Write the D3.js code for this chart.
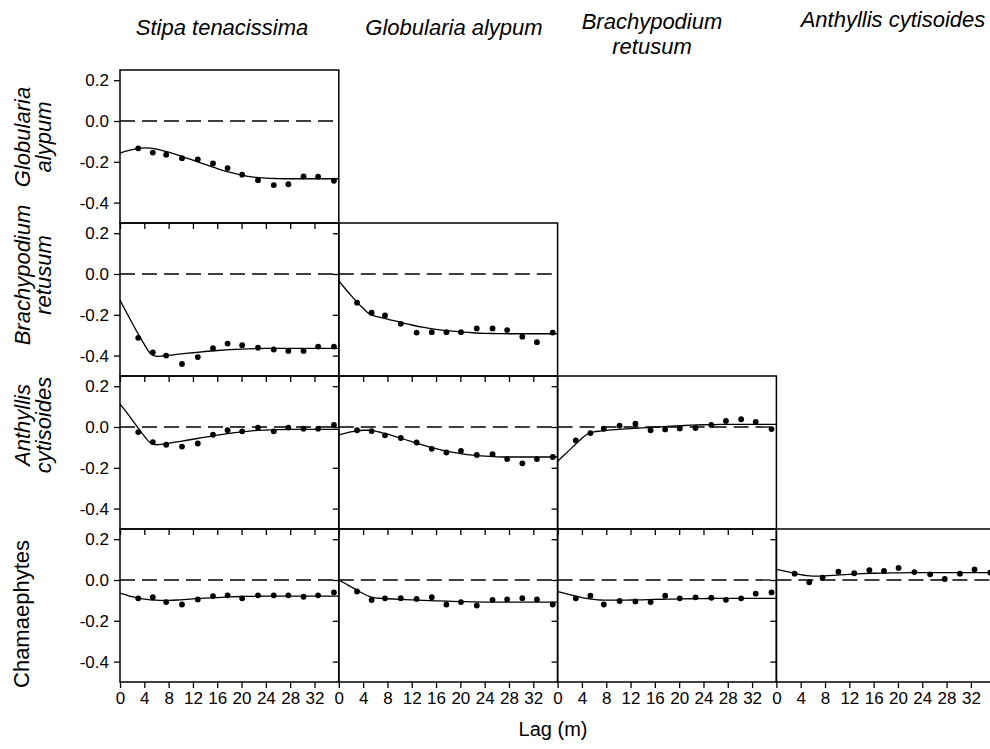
<!DOCTYPE html>
<html>
<head>
<meta charset="utf-8">
<script src="https://cdn.jsdelivr.net/npm/d3@7"></script>
<style>
body { margin: 0; background: #fff; }
svg { display: block; font-family: Arial, "Liberation Sans", sans-serif; }
</style>
</head>
<body>
<div id="chart"></div>
<script>
// Species on the columns (top) and rows (left)
var colNames = [["Stipa tenacissima"], ["Globularia alypum"], ["Brachypodium", "retusum"], ["Anthyllis cytisoides"]];
var rowNames = [["Globularia", "alypum"], ["Brachypodium", "retusum"], ["Anthyllis", "cytisoides"], ["Chamaephytes"]];

// Tick labels
var xTicks = [0, 4, 8, 12, 16, 20, 24, 28, 32];
var yTicks = [-0.4, -0.2, 0.0, 0.2];

// Lag distances (m) of the observed points and of the fitted curves
var lags = [3, 5.4, 7.6, 10.2, 12.8, 15.3, 17.7, 20.1, 22.7, 25.3, 27.7, 30.2, 32.6, 35.2];
var fitLags = [0, 1, 2, 3, 4, 5, 6, 7, 8, 10, 12, 14, 16, 18, 20, 22, 24, 26, 28, 32, 36];

// Observed cross-correlation (row species x column species)
var obsGlobStipa = [-0.134, -0.155, -0.165, -0.182, -0.188, -0.208, -0.231, -0.263, -0.290, -0.314, -0.310, -0.272, -0.273, -0.293];
var obsBracStipa = [-0.313, -0.384, -0.400, -0.441, -0.407, -0.364, -0.341, -0.349, -0.361, -0.370, -0.377, -0.377, -0.356, -0.356];
var obsBracGlob  = [-0.141, -0.190, -0.203, -0.244, -0.287, -0.285, -0.285, -0.285, -0.267, -0.267, -0.275, -0.307, -0.334, -0.287];
var obsAnthStipa = [-0.025, -0.074, -0.087, -0.096, -0.081, -0.038, -0.016, -0.021, -0.003, -0.021, -0.003, -0.008, -0.008, 0.010];
var obsAnthGlob  = [-0.016, -0.020, -0.041, -0.054, -0.076, -0.107, -0.125, -0.117, -0.137, -0.133, -0.157, -0.178, -0.157, -0.147];
var obsAnthBrac  = [-0.066, -0.030, -0.008, 0.007, 0.016, -0.016, -0.012, -0.007, -0.005, 0.010, 0.030, 0.038, 0.025, -0.010];
var obsChamStipa = [-0.090, -0.084, -0.108, -0.120, -0.095, -0.079, -0.075, -0.090, -0.075, -0.075, -0.075, -0.082, -0.075, -0.061];
var obsChamGlob  = [-0.056, -0.098, -0.090, -0.089, -0.093, -0.084, -0.120, -0.108, -0.125, -0.097, -0.095, -0.089, -0.095, -0.120];
var obsChamBrac  = [-0.090, -0.077, -0.120, -0.103, -0.105, -0.108, -0.077, -0.090, -0.085, -0.087, -0.097, -0.090, -0.067, -0.061];
var obsChamAnth  = [0.031, -0.011, 0.011, 0.041, 0.033, 0.048, 0.044, 0.059, 0.039, 0.028, 0.005, 0.031, 0.052, 0.036];

// Fitted model curves, read at fitLags
var fitGlobStipa = [-0.157, -0.148, -0.140, -0.135, -0.132, -0.133, -0.138, -0.145, -0.153, -0.172, -0.192, -0.213, -0.233, -0.251, -0.265, -0.275, -0.280, -0.282, -0.283, -0.283, -0.283];
var fitBracStipa = [-0.128, -0.185, -0.240, -0.295, -0.345, -0.390, -0.404, -0.402, -0.399, -0.392, -0.386, -0.380, -0.375, -0.371, -0.368, -0.366, -0.365, -0.365, -0.365, -0.365, -0.365];
var fitBracGlob  = [-0.034, -0.070, -0.105, -0.138, -0.168, -0.195, -0.207, -0.214, -0.221, -0.236, -0.250, -0.262, -0.271, -0.278, -0.284, -0.288, -0.291, -0.292, -0.293, -0.293, -0.293];
var fitAnthStipa = [0.112, 0.075, 0.035, -0.005, -0.045, -0.078, -0.087, -0.084, -0.080, -0.070, -0.060, -0.050, -0.040, -0.031, -0.024, -0.018, -0.015, -0.013, -0.012, -0.012, -0.012];
var fitAnthGlob  = [-0.038, -0.031, -0.024, -0.019, -0.016, -0.016, -0.020, -0.027, -0.035, -0.053, -0.072, -0.090, -0.106, -0.120, -0.130, -0.138, -0.143, -0.146, -0.147, -0.147, -0.147];
var fitAnthBrac  = [-0.168, -0.140, -0.112, -0.083, -0.055, -0.033, -0.024, -0.020, -0.017, -0.012, -0.008, -0.004, -0.001, 0.003, 0.006, 0.009, 0.011, 0.012, 0.013, 0.013, 0.013];
var fitChamStipa = [-0.064, -0.073, -0.082, -0.089, -0.094, -0.097, -0.099, -0.100, -0.100, -0.097, -0.093, -0.089, -0.086, -0.083, -0.081, -0.080, -0.079, -0.079, -0.079, -0.079, -0.079];
var fitChamGlob  = [0.000, -0.016, -0.033, -0.050, -0.066, -0.080, -0.088, -0.090, -0.092, -0.095, -0.097, -0.100, -0.102, -0.104, -0.106, -0.107, -0.108, -0.108, -0.108, -0.108, -0.108];
var fitChamBrac  = [-0.057, -0.064, -0.072, -0.079, -0.086, -0.091, -0.095, -0.098, -0.099, -0.099, -0.098, -0.097, -0.095, -0.094, -0.093, -0.092, -0.091, -0.090, -0.090, -0.090, -0.090];
var fitChamAnth  = [0.052, 0.046, 0.040, 0.033, 0.026, 0.021, 0.019, 0.019, 0.020, 0.024, 0.028, 0.031, 0.033, 0.034, 0.035, 0.036, 0.036, 0.036, 0.036, 0.036, 0.036];

// Lower triangle of the panel matrix
var panels = [
  {row: 0, col: 0, obs: obsGlobStipa, fit: fitGlobStipa},
  {row: 1, col: 0, obs: obsBracStipa, fit: fitBracStipa},
  {row: 1, col: 1, obs: obsBracGlob, fit: fitBracGlob},
  {row: 2, col: 0, obs: obsAnthStipa, fit: fitAnthStipa},
  {row: 2, col: 1, obs: obsAnthGlob, fit: fitAnthGlob},
  {row: 2, col: 2, obs: obsAnthBrac, fit: fitAnthBrac},
  {row: 3, col: 0, obs: obsChamStipa, fit: fitChamStipa},
  {row: 3, col: 1, obs: obsChamGlob, fit: fitChamGlob},
  {row: 3, col: 2, obs: obsChamBrac, fit: fitChamBrac},
  {row: 3, col: 3, obs: obsChamAnth, fit: fitChamAnth}
];

// Layout
var width = 990, height = 749;
var gridLeft = 120, gridTop = 70;
var cellW = 218.8, cellH = 153;

var x = d3.scaleLinear().domain([0, 36]).range([0, cellW]);
var y = d3.scaleLinear().domain([-0.5, 0.25]).range([cellH, 0]);

var line = d3.line()
  .x(function(d) { return x(d[0]); })
  .y(function(d) { return y(d[1]); })
  .curve(d3.curveMonotoneX);

var svg = d3.select("#chart").append("svg")
  .attr("width", width)
  .attr("height", height);

panels.forEach(function(p) {
  var g = svg.append("g")
    .attr("transform", "translate(" + (gridLeft + p.col * cellW) + "," + (gridTop + p.row * cellH) + ")");

  // dashed zero line
  g.append("line")
    .attr("x1", 0).attr("x2", cellW)
    .attr("y1", y(0)).attr("y2", y(0))
    .attr("stroke", "#000")
    .attr("stroke-width", 1.3)
    .attr("stroke-dasharray", "15,7");

  // fitted curve
  g.append("path")
    .datum(d3.zip(fitLags, p.fit))
    .attr("fill", "none")
    .attr("stroke", "#000")
    .attr("stroke-width", 1.3)
    .attr("d", line);

  // observed points
  g.selectAll("circle")
    .data(d3.zip(lags, p.obs))
    .enter().append("circle")
    .attr("r", 2.9)
    .attr("cx", function(d) { return x(d[0]); })
    .attr("cy", function(d) { return y(d[1]); })
    .attr("fill", "#000");

  // y axis, labels only on the first column
  var ya = g.append("g")
    .call(d3.axisLeft(y).tickValues(yTicks).tickSize(6).tickSizeOuter(0).tickPadding(5)
      .tickFormat(p.col === 0 ? function(d) { return d.toFixed(1); } : ""));

  // x axis, labels only on the bottom row
  var xa = g.append("g")
    .attr("transform", "translate(0," + cellH + ")")
    .call(d3.axisBottom(x).tickValues(xTicks).tickSize(6).tickSizeOuter(0).tickPadding(4)
      .tickFormat(p.row === 3 ? d3.format("d") : ""));

  [ya, xa].forEach(function(a) {
    a.attr("font-size", 17).attr("font-family", null);
    a.select(".domain").remove();
    a.selectAll(".tick line").attr("stroke-width", 1.3);
    a.selectAll("text").attr("fill", "#000");
  });

  // panel frame
  g.append("rect")
    .attr("width", cellW)
    .attr("height", cellH)
    .attr("fill", "none")
    .attr("stroke", "#000")
    .attr("stroke-width", 1.5);
});

// Column titles
var colTitleX = [222, 454, 652, 893];
var colTitleY = [35, 35, 29, 27];
colNames.forEach(function(name, i) {
  var t = svg.append("text")
    .attr("x", colTitleX[i])
    .attr("y", colTitleY[i])
    .attr("text-anchor", "middle")
    .attr("font-size", 22)
    .attr("font-style", "italic");
  name.forEach(function(s, j) {
    t.append("tspan").attr("x", colTitleX[i]).attr("dy", j === 0 ? 0 : 25).text(s);
  });
});

// Row labels (rotated)
var rowLabelY = [137, 275, 425, 614];
rowNames.forEach(function(name, i) {
  var single = name.length === 1;
  var t = svg.append("text")
    .attr("transform", "translate(" + (single ? 29 : 30) + "," + rowLabelY[i] + ") rotate(-90)")
    .attr("text-anchor", "middle")
    .attr("font-size", 22)
    .attr("font-style", single ? "normal" : "italic");
  name.forEach(function(s, j) {
    t.append("tspan").attr("x", 0).attr("dy", j === 0 ? 0 : 21).text(s);
  });
});

// X axis title
svg.append("text")
  .attr("x", 553)
  .attr("y", 736)
  .attr("text-anchor", "middle")
  .attr("font-size", 20)
  .text("Lag (m)");
</script>
</body>
</html>
